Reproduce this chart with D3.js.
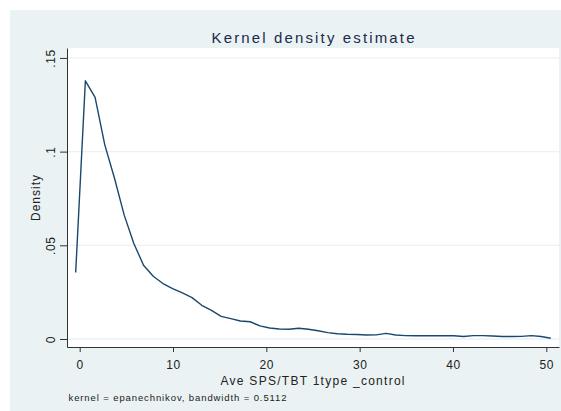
<!DOCTYPE html>
<html>
<head>
<meta charset="utf-8">
<script src="https://cdn.jsdelivr.net/npm/d3@7"></script>
<style>
  html, body { margin: 0; padding: 0; background: #fff; }
  text { font-family: "Liberation Sans", Arial, sans-serif; }
</style>
</head>
<body>
<div id="kdensity-chart"></div>
<script>
// evaluation points of the estimate (50 points)
const gridX = [
  -0.43, 0.61, 1.65, 2.69, 3.73, 4.77, 5.80, 6.84, 7.88, 8.92,
  9.96, 11.00, 12.04, 13.08, 14.12, 15.16, 16.19, 17.23, 18.27, 19.31,
  20.35, 21.39, 22.43, 23.47, 24.51, 25.54, 26.58, 27.62, 28.66, 29.70,
  30.74, 31.78, 32.82, 33.86, 34.90, 35.93, 36.97, 38.01, 39.05, 40.09,
  41.13, 42.17, 43.21, 44.25, 45.29, 46.32, 47.36, 48.40, 49.44, 50.48
];
const density = [
  0.0355, 0.1378, 0.1289, 0.1036, 0.0858, 0.0661, 0.0510, 0.0394, 0.0335, 0.0296,
  0.0269, 0.0246, 0.0221, 0.0180, 0.0153, 0.0121, 0.0109, 0.0096, 0.0092, 0.0070,
  0.0059, 0.0053, 0.0052, 0.0057, 0.0052, 0.0044, 0.0034, 0.0028, 0.0025, 0.0024,
  0.0021, 0.0022, 0.0030, 0.0021, 0.0018, 0.0017, 0.0017, 0.0017, 0.0017, 0.0017,
  0.0013, 0.0018, 0.0018, 0.0016, 0.0013, 0.0013, 0.0014, 0.0018, 0.0013, 0.0004
];
const xTicks = [0, 10, 20, 30, 40, 50];
const yTicks = [0, 0.05, 0.1, 0.15];
const yTickLabels = ["0", ".05", ".1", ".15"];

const chartTitle = "Kernel density estimate";
const xTitle = "Ave SPS/TBT 1type _control";
const yTitle = "Density";
const noteText = "kernel = epanechnikov, bandwidth = 0.5112";

// page + plot box
const W = 561, H = 411;
const plot = { left: 67, right: 559, top: 48, bottom: 347 };
const bg = "#eaf2f3";
const navy = "#1a476f";
const ink = "#222";

const svg = d3.select("#kdensity-chart")
  .append("svg")
  .attr("width", W)
  .attr("height", H);

// graph region
svg.append("rect")
  .attr("x", 10).attr("y", 10)
  .attr("width", W - 10).attr("height", H - 10)
  .attr("fill", bg);

// plot region
svg.append("rect")
  .attr("x", plot.left).attr("y", plot.top)
  .attr("width", plot.right - plot.left).attr("height", plot.bottom - plot.top)
  .attr("fill", "#fff");

const x = d3.scaleLinear()
  .domain([-1.36, 51.36])
  .range([plot.left, plot.right]);

const y = d3.scaleLinear()
  .domain([-0.00427, 0.1553])
  .range([plot.bottom, plot.top]);

// grid lines
svg.append("g")
  .selectAll("line")
  .data(yTicks)
  .enter()
  .append("line")
  .attr("x1", plot.left)
  .attr("x2", plot.right)
  .attr("y1", d => y(d))
  .attr("y2", d => y(d))
  .attr("stroke", bg)
  .attr("stroke-width", 1.3);

// density curve
const line = d3.line()
  .x((d, i) => x(gridX[i]))
  .y(d => y(d));

svg.append("path")
  .datum(density)
  .attr("d", line)
  .attr("fill", "none")
  .attr("stroke", navy)
  .attr("stroke-width", 1.4)
  .attr("stroke-linejoin", "round");

// x axis
const xAxis = svg.append("g")
  .attr("transform", "translate(0," + plot.bottom + ")")
  .call(d3.axisBottom(x).tickValues(xTicks).tickSize(5).tickSizeOuter(0).tickFormat(d3.format("d")));
xAxis.select(".domain").attr("stroke", "#333");
xAxis.selectAll(".tick line").attr("stroke", "#333");
xAxis.selectAll("text")
  .attr("y", 22)
  .attr("dy", 0)
  .attr("fill", ink)
  .style("font-size", "12px")
  .style("letter-spacing", "0.6px");

// y axis
const yAxis = svg.append("g")
  .attr("transform", "translate(" + plot.left + ",0)")
  .call(d3.axisLeft(y).tickValues(yTicks).tickSize(7).tickSizeOuter(0)
    .tickFormat((d, i) => yTickLabels[i]));
yAxis.select(".domain").attr("stroke", "#333");
yAxis.selectAll(".tick line").attr("stroke", "#333");
yAxis.selectAll("text")
  .attr("transform", "rotate(-90)")
  .attr("x", 0)
  .attr("y", -12)
  .attr("dy", 0)
  .attr("text-anchor", "middle")
  .attr("fill", ink)
  .style("font-size", "12px")
  .style("letter-spacing", "0.6px");

// titles
svg.append("text")
  .attr("x", 211.5).attr("y", 42.5)
  .attr("textLength", 203)
  .attr("lengthAdjust", "spacing")
  .attr("fill", "#1c2a4c")
  .style("font-size", "15px")
  .text(chartTitle);

svg.append("text")
  .attr("x", 220.5).attr("y", 384.5)
  .attr("textLength", 184)
  .attr("lengthAdjust", "spacing")
  .attr("fill", ink)
  .style("font-size", "12px")
  .text(xTitle);

svg.append("text")
  .attr("transform", "translate(40,198) rotate(-90)")
  .attr("text-anchor", "middle")
  .attr("textLength", 46)
  .attr("lengthAdjust", "spacing")
  .attr("fill", ink)
  .style("font-size", "12px")
  .text(yTitle);

svg.append("text")
  .attr("x", 68.5).attr("y", 401)
  .attr("textLength", 218)
  .attr("lengthAdjust", "spacing")
  .attr("fill", ink)
  .style("font-size", "9.5px")
  .text(noteText);
</script>
</body>
</html>
